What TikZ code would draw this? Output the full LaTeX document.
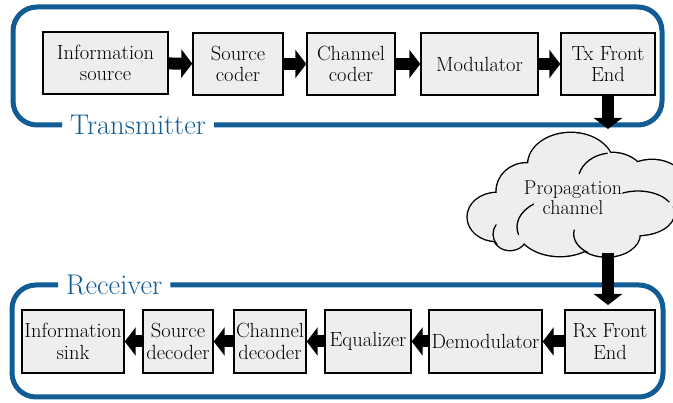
\documentclass[tikz,border=0pt]{standalone}
\usetikzlibrary{arrows.meta,calc}
\definecolor{frameblue}{RGB}{18,92,150}
\definecolor{boxgray}{RGB}{238,238,238}
\tikzset{
  blk/.style={draw=black, line width=1.4pt, fill=boxgray, inner sep=0pt, align=center,
    font=\fontsize{20.5}{21.5}\selectfont},
  frame/.style={draw=frameblue, line width=5pt, rounded corners=24pt},
  lbl/.style={text=frameblue, inner ysep=0pt, inner xsep=8pt, font=\fontsize{28.5}{30}\selectfont},
  barrow/.style={line width=12pt, -{Triangle[length=11pt,width=28pt]}},
  puffarc/.style={draw=black, line width=1.3pt, line cap=round}
}
\newcommand{\cloudpuffs}{%
  (570.7,164.7) ellipse [x radius=42.5, y radius=31.7]
  (526.7,191.3) ellipse [x radius=30, y radius=28]
  (496.7,217) ellipse [x radius=29, y radius=24]
  (510,234) ellipse [x radius=17, y radius=16]
  (612,181) ellipse [x radius=34, y radius=28]
  (652,186) ellipse [x radius=34, y radius=26]
  (638,213) ellipse [x radius=36, y radius=22]
  (560,227) ellipse [x radius=43, y radius=29]
  (606.7,234) ellipse [x radius=33, y radius=22.5]
  (572,195) ellipse [x radius=50, y radius=35]}
\begin{document}
\begin{tikzpicture}[x=1pt,y=-1pt]
\useasboundingbox (0,0) rectangle (673,403);
% transmitter frame
\node[lbl, anchor=west] (tl) at (62,125) {Transmitter};
\draw[frame] (tl.west) -| (13,7) -| (662,125) -- (tl.east);
% receiver frame
\node[lbl, anchor=west] (rl) at (58,285) {Receiver};
\draw[frame] (rl.east) -| (663,397) -| (12,285) -- (rl.west);
% top blocks
\node[blk, minimum width=125, minimum height=62] (is) at (105.5,63) {Information\\source};
\node[blk, minimum width=90, minimum height=62] (sc) at (238,64) {Source\\coder};
\node[blk, minimum width=88, minimum height=62] (cc) at (351,64) {Channel\\coder};
\node[blk, minimum width=117, minimum height=62] (mo) at (479.5,64) {Modulator};
\node[blk, minimum width=94, minimum height=62] (tx) at (608,64) {Tx Front\\End};
% bottom blocks
\node[blk, minimum width=102, minimum height=63] (sk) at (73,341.5) {Information\\sink};
\node[blk, minimum width=70, minimum height=63] (sd) at (178,341.5) {Source\\decoder};
\node[blk, minimum width=72, minimum height=63] (cd) at (270,341.5) {Channel\\decoder};
\node[blk, minimum width=86, minimum height=63] (eq) at (368,341.5) {Equalizer};
\node[blk, minimum width=113, minimum height=63] (dm) at (485.5,341.5) {Demodulator};
\node[blk, minimum width=90, minimum height=63] (rx) at (610,341.5) {Rx Front\\End};
% cloud: outer outline, fill, then inner arcs
\draw[black, line width=2.8pt] \cloudpuffs;
\fill[boxgray] \cloudpuffs;
\draw[puffarc] ($(612,181)+(195:34 and 28)$) arc[start angle=195, end angle=262, x radius=34, y radius=28];
\draw[puffarc] ($(638,213)+(245:36 and 22)$) arc[start angle=245, end angle=330, x radius=36, y radius=22];
\draw[puffarc] ($(560,227)+(165:43 and 29)$) arc[start angle=165, end angle=232, x radius=43, y radius=29];
\draw[puffarc] ($(510,234)+(140:17 and 16)$) arc[start angle=140, end angle=215, x radius=17, y radius=16];
\draw[puffarc] ($(606.7,234)+(125:33 and 22.5)$) arc[start angle=125, end angle=190, x radius=33, y radius=22.5];
\node[align=center, inner sep=0pt, font=\fontsize{20}{20.5}\selectfont] (ch) at (573,198) {Propagation\\channel};
% arrows
\draw[barrow] (is) -- (sc);
\draw[barrow] (sc) -- (cc);
\draw[barrow] (cc) -- (mo);
\draw[barrow] (mo) -- (tx);
\coordinate (a1) at (608,129);
\draw[barrow] (tx.south) -- (a1);
\coordinate (a2s) at (608,253);
\coordinate (a2e) at (608,305);
\draw[barrow] (a2s) -- (a2e);
\draw[barrow] (rx) -- (dm);
\draw[barrow] (dm) -- (eq);
\draw[barrow] (eq) -- (cd);
\draw[barrow] (cd) -- (sd);
\draw[barrow] (sd) -- (sk);
\end{tikzpicture}
\end{document}
